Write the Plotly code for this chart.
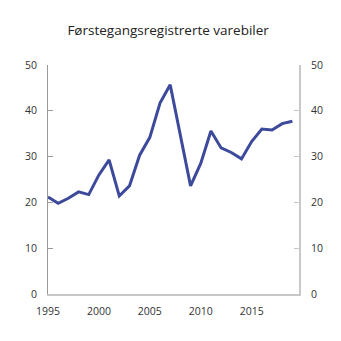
import plotly.graph_objects as go

years = list(range(1995, 2020))
values = [21.2, 19.8, 20.9, 22.3, 21.7, 26.0, 29.3, 21.4, 23.6, 30.3, 34.2, 41.7,
          45.7, 34.5, 23.6, 28.5, 35.6, 31.9, 30.9, 29.5, 33.3, 36.0, 35.8, 37.2, 37.7]
x_ticks = [1995, 2000, 2005, 2010, 2015]
y_ticks = [0, 10, 20, 30, 40, 50]
title = "Førstegangsregistrerte varebiler"

line_color = "#3d4a9b"
font_fam = "Open Sans, Noto Sans, sans-serif"

fig = go.Figure()
fig.add_trace(go.Scatter(x=years, y=values, mode="lines",
                         line=dict(color=line_color, width=3), showlegend=False))
fig.add_trace(go.Scatter(x=years, y=values, mode="lines", yaxis="y2",
                         line=dict(color="rgba(0,0,0,0)", width=0),
                         showlegend=False, hoverinfo="skip"))

fig.update_layout(
    width=341, height=341,
    margin=dict(l=48, r=42, t=65, b=47),
    paper_bgcolor="white", plot_bgcolor="white",
    title=dict(text=title, x=0.493, xanchor="center", y=0.912, yanchor="middle",
               font=dict(family=font_fam, size=13.5, color="#222")),
    font=dict(family=font_fam, size=11, color="#333"),
    xaxis=dict(range=[1995, 2019.65], tickvals=x_ticks, showgrid=False,
               zeroline=False, showline=True, linecolor="#c8c8c8", linewidth=2,
               ticks="outside", ticklen=6, tickcolor="rgba(0,0,0,0)",
               tickfont=dict(size=10.5, color="#333")),
    yaxis=dict(range=[0, 50], tickvals=y_ticks, showgrid=False, zeroline=False,
               showline=True, linecolor="#999", linewidth=1,
               ticks="inside", ticklen=5, tickcolor="#999",
               ticklabelstandoff=8,
               tickfont=dict(size=10.5, color="#333")),
    yaxis2=dict(range=[0, 50], tickvals=y_ticks, overlaying="y", side="right",
                showgrid=False, zeroline=False, showline=True,
                linecolor="#c8c8c8", linewidth=2,
                ticks="inside", ticklen=5, tickcolor="#c8c8c8",
                ticklabelstandoff=8,
                tickfont=dict(size=10.5, color="#333")),
)

fig.write_html("out.html")
